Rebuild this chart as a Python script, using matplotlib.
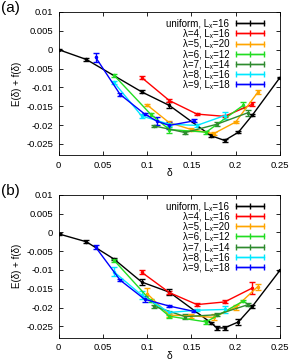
import matplotlib
matplotlib.use("Agg")
import matplotlib.pyplot as plt
from matplotlib.legend_handler import HandlerErrorbar
import numpy as np

plt.rcParams['font.family'] = ['Liberation Sans', 'DejaVu Sans']

labels = ["uniform, Lₓ=16", "λ=4, Lₓ=16", "λ=5, Lₓ=20", "λ=6, Lₓ=12",
          "λ=7, Lₓ=14", "λ=8, Lₓ=16", "λ=9, Lₓ=18"]
colors = ["black", "#ff0000", "#ffa500", "#22dd22", "#2e8b2e", "#00e8ff", "#0000ff"]

# panel (a)
a_x = [
    [0, 0.03125, 0.09375, 0.125, 0.171875, 0.1875, 0.203125, 0.21875, 0.25],
    [0.09375, 0.125, 0.15625, 0.1875, 0.21875],
    [0.1, 0.125, 0.15, 0.175, 0.2, 0.225],
    [0.0625, 0.104167, 0.125, 0.166667, 0.208333],
    [0.107143, 0.142857, 0.178571, 0.214286],
    [0.0625, 0.09375, 0.125, 0.15625, 0.1875],
    [0.041667, 0.069444, 0.097222, 0.111111, 0.125, 0.152778],
]
a_y = [
    [0, -0.0026, -0.0112, -0.0148, -0.0228, -0.0241, -0.0219, -0.0174, -0.0074],
    [-0.0074, -0.0135, -0.0171, -0.0177, -0.0145],
    [-0.0147, -0.0194, -0.0212, -0.0223, -0.0192, -0.0113],
    [-0.0068, -0.0172, -0.0212, -0.0219, -0.0148],
    [-0.0202, -0.0220, -0.0198, -0.0167],
    [-0.0087, -0.0176, -0.0198, -0.0201, -0.0175],
    [-0.0020, -0.0119, -0.0171, -0.0190, -0.0201, -0.0189],
]
a_err = [
    [0.0002, 0.0004, 0.0004, 0.0008, 0.0003, 0.0003, 0.0003, 0.0003, 0.0002],
    [0.0004, 0.0004, 0.0003, 0.0003, 0.0005],
    [0.0003, 0.0004, 0.0003, 0.0004, 0.0003, 0.0005],
    [0.0004, 0.0004, 0.0008, 0.0004, 0.0008],
    [0.0003, 0.0003, 0.0005, 0.0008],
    [0.0004, 0.0005, 0.0004, 0.0005, 0.0010],
    [0.0012, 0.0004, 0.0003, 0.0010, 0.0009, 0.0004],
]

# panel (b)
b_x = [
    [0, 0.03125, 0.0625, 0.09375, 0.125, 0.171875, 0.178571, 0.1875, 0.203125, 0.21875, 0.25],
    [0.09375, 0.125, 0.15625, 0.1875, 0.21875],
    [0.1, 0.125, 0.15, 0.175, 0.2, 0.225],
    [0.0625, 0.104167, 0.125, 0.166667, 0.208333],
    [0.107143, 0.142857, 0.178571, 0.214286],
    [0.0625, 0.09375, 0.125, 0.15625, 0.1875],
    [0.041667, 0.069444, 0.097222, 0.125, 0.152778],
]
b_y = [
    [-0.0004, -0.0025, -0.0071, -0.0132, -0.0159, -0.0240, -0.0254, -0.0254, -0.0238, -0.0197, -0.0101],
    [-0.0106, -0.0160, -0.0192, -0.0185, -0.0148],
    [-0.0163, -0.0220, -0.0222, -0.0226, -0.0199, -0.0144],
    [-0.0074, -0.0182, -0.0223, -0.0238, -0.0183],
    [-0.0196, -0.0224, -0.0219, -0.0192],
    [-0.0105, -0.0167, -0.0213, -0.0207, -0.0205],
    [-0.0039, -0.0127, -0.0178, -0.0196, -0.0210],
]
b_err = [
    [0.0002, 0.0004, 0.0003, 0.0008, 0.0008, 0.0003, 0.0006, 0.0005, 0.0007, 0.0003, 0.0002],
    [0.0006, 0.0004, 0.0004, 0.0004, 0.0017],
    [0.0015, 0.0005, 0.0005, 0.0008, 0.0007, 0.0008],
    [0.0004, 0.0004, 0.0004, 0.0005, 0.0003],
    [0.0004, 0.0006, 0.0004, 0.0004],
    [0.0012, 0.0010, 0.0004, 0.0003, 0.0010],
    [0.0005, 0.0003, 0.0008, 0.0003, 0.0003],
]

xticks = [0, 0.05, 0.1, 0.15, 0.2, 0.25]
xticklabels = ["0", "0.05", "0.1", "0.15", "0.2", "0.25"]
yticks = [0.01, 0.005, 0, -0.005, -0.01, -0.015, -0.02, -0.025]
yticklabels = ["0.01", "0.005", "0", "-0.005", "-0.01", "-0.015", "-0.02", "-0.025"]

fig = plt.figure(figsize=(2.91, 3.6), dpi=100)

HL = 2.9


def panel(rect, xs, ys, errs, tag):
    ax = fig.add_axes(rect)
    handles = []
    for x, y, e, c in zip(xs, ys, errs, colors):
        ax.errorbar(x, y, yerr=e, color=c, lw=1.0, elinewidth=1.0, capsize=2,
                    capthick=1.0, marker='.', ms=3)
        # legend proxy in gnuplot key style
        h = ax.errorbar([np.nan], [np.nan], xerr=[1], color=c, lw=1.0, elinewidth=1.0,
                        capsize=2.5, capthick=1.0, marker='|', ms=4, mew=1.0)
        handles.append(h)
    ax.set_xlim(0, 0.25)
    ax.set_ylim(-0.028, 0.01)
    ax.set_xticks(xticks)
    ax.set_xticklabels(xticklabels)
    ax.set_yticks(yticks)
    ax.set_yticklabels(yticklabels)
    ax.tick_params(direction='in', top=True, right=True, labelsize=6.8, length=3, width=0.6, pad=4)
    for s in ax.spines.values():
        s.set_linewidth(0.6)
    ax.set_xlabel("δ", fontsize=7.5, labelpad=-1)
    ax.set_ylabel("E(δ) + f(δ)", fontsize=7, labelpad=3)
    ax.legend(handles, labels, loc='upper right', bbox_to_anchor=(0.955, 0.995), frameon=False,
              markerfirst=False, fontsize=7.0, handlelength=HL, handletextpad=0.7,
              labelspacing=0.02, borderaxespad=0.2,
              handler_map={type(handles[0]): HandlerErrorbar(xerr_size=HL / 2 - 0.05)})
    fig.text(0.003, rect[1] + rect[3] + 0.03, tag, fontsize=11, va='top', ha='left')
    return ax


panel([0.2017, 0.569, 0.7603, 0.3977], a_x, a_y, a_err, "(a)")
panel([0.2017, 0.062, 0.7603, 0.397], b_x, b_y, b_err, "(b)")

fig.savefig("out.png", dpi=100)
